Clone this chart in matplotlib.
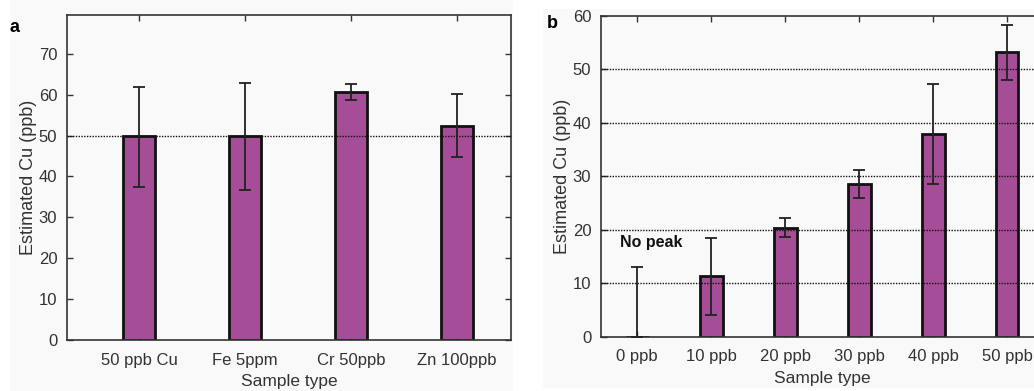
import matplotlib
matplotlib.use("Agg")
import matplotlib.pyplot as plt
import numpy as np
from matplotlib.patches import Rectangle

plt.rcParams['font.family'] = ['Liberation Sans', 'DejaVu Sans']

# panel a data
labels_a = ["50 ppb Cu", "Fe 5ppm", "Cr 50ppb", "Zn 100ppb"]
vals_a = [49.9, 49.9, 60.6, 52.4]
lo_a = [37.5, 36.8, 58.6, 44.8]
hi_a = [62.0, 62.8, 62.6, 60.1]

# panel b data
labels_b = ["0 ppb", "10 ppb", "20 ppb", "30 ppb", "40 ppb", "50 ppb"]
vals_b = [0.0, 11.3, 20.4, 28.6, 37.9, 53.2]
lo_b = [0.0, 4.2, 18.7, 25.9, 28.6, 48.0]
hi_b = [13.0, 18.4, 22.2, 31.1, 47.3, 58.3]

barcol = "#a64d97"
txtcol = "#333333"
bgcol = "#f9f9f9"

fig = plt.figure(figsize=(10.34, 3.91), dpi=100)
fig.patch.set_facecolor("white")
# light grey panel backgrounds
fig.patches.append(Rectangle((10/1034, 0), 503/1034, 1, transform=fig.transFigure,
                             facecolor=bgcol, edgecolor="none", zorder=-10))
fig.patches.append(Rectangle((543/1034, 3/391), 491/1034, 379/391, transform=fig.transFigure,
                             facecolor=bgcol, edgecolor="none", zorder=-10))


def style_axes(ax):
    ax.set_facecolor(bgcol)
    for s in ax.spines.values():
        s.set_color(txtcol)
        s.set_linewidth(1.2)
    ax.tick_params(direction="in", top=True, right=True, length=4, width=1,
                   color=txtcol, labelcolor=txtcol, labelsize=12, pad=7)
    ax.tick_params(axis="x", pad=9)
    ax.set_xlabel("Sample type", fontsize=12.5, color=txtcol, labelpad=5)
    ax.set_ylabel("Estimated Cu (ppb)", fontsize=13, color=txtcol, labelpad=1)


# ---- panel a
ax1 = fig.add_axes([67/1034, 1-340/391, 444/1034, 325/391])
xa = np.arange(1, len(labels_a)+1)
va = np.array(vals_a)
ax1.bar(xa, va, width=0.3, color=barcol, edgecolor="#111111", linewidth=2, zorder=2)
ax1.errorbar(xa, va, yerr=[va-np.array(lo_a), np.array(hi_a)-va], fmt="none",
             ecolor="#222222", elinewidth=1.3, capsize=4, capthick=1.3, zorder=4)
ax1.axhline(50, color="#111111", linestyle=(0, (1, 1)), linewidth=1, zorder=3)
ax1.set_xlim(0.321, 4.509)
ax1.set_ylim(0, 79.5)
ax1.set_yticks(np.arange(0, 71, 10))
ax1.set_xticks(xa)
ax1.set_xticklabels(labels_a)
style_axes(ax1)
fig.text(10/1034, 1-27/391, "a", fontsize=13, fontweight="bold", va="center")

# ---- panel b
ax2 = fig.add_axes([601/1034, 1-337/391, 443/1034, 321.3/391])
xb = np.arange(1, len(labels_b)+1)
vb = np.array(vals_b)
ax2.bar(xb, vb, width=0.31, color=barcol, edgecolor="#111111", linewidth=2, zorder=2)
ax2.errorbar(xb, vb, yerr=[vb-np.array(lo_b), np.array(hi_b)-vb], fmt="none",
             ecolor="#222222", elinewidth=1.3, capsize=4, capthick=1.3, zorder=4)
for g in [10, 20, 30, 40, 50]:
    ax2.axhline(g, color="#111111", linestyle=(0, (1, 1)), linewidth=1, zorder=3)
ax2.set_xlim(0.51, 6.5)
ax2.set_ylim(0, 60)
ax2.set_yticks(np.arange(0, 61, 10))
ax2.set_xticks(xb)
ax2.set_xticklabels(labels_b)
style_axes(ax2)
ax2.text(0.77, 17.7, "No peak", fontsize=11.5, fontweight="bold", va="center", ha="left", color="#111111")
fig.text(547/1034, 1-23/391, "b", fontsize=13, fontweight="bold", va="center")

fig.savefig("out.png", dpi=100, facecolor=fig.get_facecolor())
